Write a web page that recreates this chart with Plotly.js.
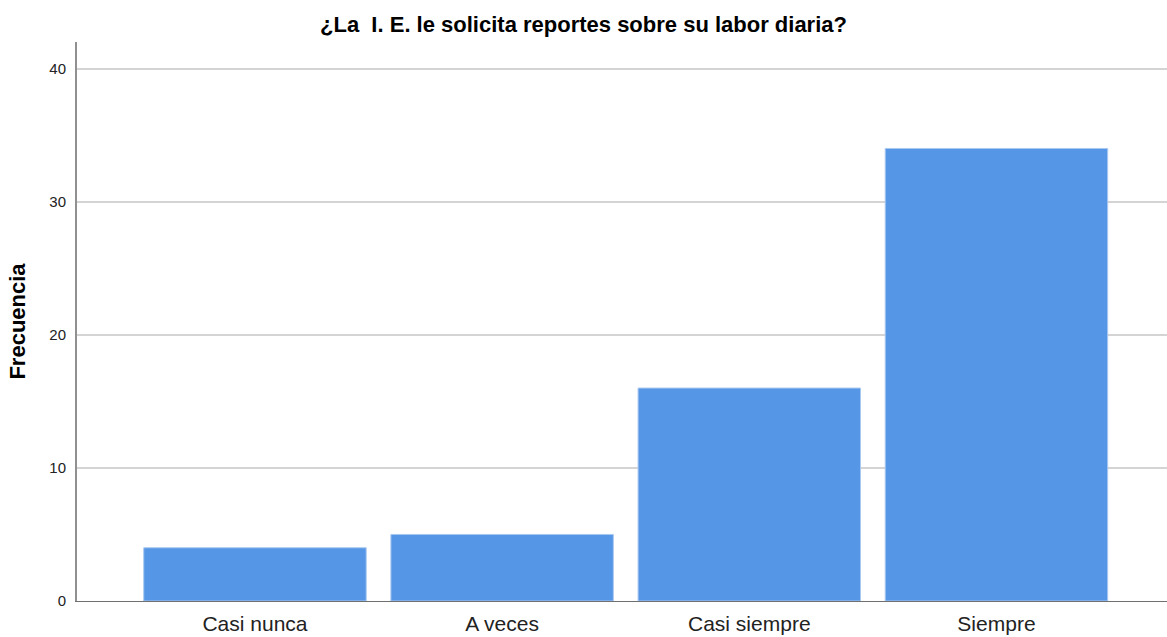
<!DOCTYPE html>
<html>
<head>
<meta charset="utf-8">
<script src="https://cdn.plot.ly/plotly-3.0.1.min.js"></script>
<style>html,body{margin:0;padding:0;background:#fff;}#chart{width:1167px;height:637px;}</style>
</head>
<body>
<div id="chart"></div>
<script>
const categories = ["Casi nunca", "A veces", "Casi siempre", "Siempre"];
const frecuencia = [4, 5, 16, 34];
const yTicks = [0, 10, 20, 30, 40];

const trace = {
  type: "bar",
  x: categories,
  y: frecuencia,
  marker: {color: "#5596E6", line: {color: "#A9C8F0", width: 1}},
  hoverinfo: "none"
};

const layout = {
  width: 1167, height: 637,
  margin: {l: 77, r: 0, t: 42, b: 36},
  paper_bgcolor: "#ffffff", plot_bgcolor: "#ffffff",
  bargap: 0.1,
  showlegend: false,
  title: {text: "¿La  I. E. le solicita reportes sobre su labor diaria?", x: 0.5, xanchor: "center", y: 0.962, yanchor: "middle",
          font: {family: "Liberation Sans, Arial, sans-serif", size: 22, color: "#000", weight: "bold"}},
  xaxis: {
    range: [-0.72, 3.69],
    showline: true, linecolor: "#707070", linewidth: 1,
    showgrid: false, ticks: "", zeroline: false,
    ticklabelstandoff: 4,
    tickfont: {family: "Liberation Sans, Arial, sans-serif", size: 21, color: "#222"}
  },
  yaxis: {
    range: [0, 42],
    tickvals: yTicks, ticktext: yTicks.map(String),
    showline: true, linecolor: "#909090", linewidth: 2,
    showgrid: true, gridcolor: "#d4d4d4", gridwidth: 2,
    zeroline: false, ticks: "", ticklen: 0,
    ticklabelstandoff: 6,
    tickfont: {family: "Liberation Sans, Arial, sans-serif", size: 15, color: "#222"},
    title: {text: "Frecuencia", standoff: 18, font: {family: "Liberation Sans, Arial, sans-serif", size: 22, color: "#000", weight: "bold"}}
  }
};

Plotly.newPlot("chart", [trace], layout, {displayModeBar: false, staticPlot: true});
</script>
</body>
</html>
